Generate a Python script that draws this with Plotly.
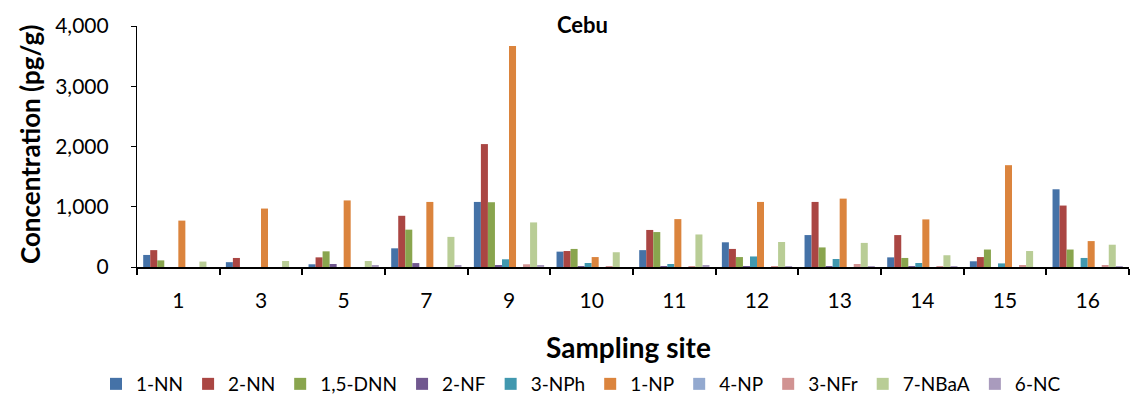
import plotly.graph_objects as go

sites = ["1", "3", "5", "7", "9", "10", "11", "12", "13", "14", "15", "16"]

nn1 = [200, 80, 45, 310, 1080, 255, 280, 410, 530, 160, 95, 1290]
nn2 = [280, 150, 160, 850, 2040, 265, 615, 300, 1080, 530, 165, 1020]
dnn15 = [110, 0, 260, 620, 1075, 300, 580, 165, 325, 150, 290, 290]
nf2 = [0, 0, 50, 65, 33, 10, 15, 15, 10, 15, 0, 0]
nph3 = [0, 0, 0, 0, 128, 66, 50, 175, 133, 66, 60, 150]
np1 = [770, 970, 1105, 1080, 3670, 165, 795, 1080, 1135, 790, 1690, 430]
np4 = [0, 0, 0, 0, 0, 0, 0, 0, 0, 0, 0, 0]
nfr3 = [0, 0, 0, 0, 45, 10, 15, 10, 50, 15, 28, 28]
nbaa7 = [90, 100, 100, 500, 740, 245, 540, 415, 400, 195, 265, 370]
nc6 = [0, 0, 30, 20, 28, 0, 28, 10, 10, 8, 0, 10]

series = [
    ("1-NN", nn1, "#4572A7"),
    ("2-NN", nn2, "#AA4643"),
    ("1,5-DNN", dnn15, "#89A54E"),
    ("2-NF", nf2, "#71588F"),
    ("3-NPh", nph3, "#4198AF"),
    ("1-NP", np1, "#DB843D"),
    ("4-NP", np4, "#93A9CF"),
    ("3-NFr", nfr3, "#D19392"),
    ("7-NBaA", nbaa7, "#B9CD96"),
    ("6-NC", nc6, "#A99BBD"),
]

FONT = "Lato"
W, H = 1131, 401
ML, MR, MT, MB = 137, 2, 26, 134
PW, PH = W - ML - MR, H - MT - MB


def px_to_xpaper(px):
    return (px - ML) / PW


def px_to_ypaper(py):
    return (H - MB - py) / PH


fig = go.Figure()
for name, vals, color in series:
    fig.add_trace(go.Bar(
        name=name, x=sites, y=vals,
        marker=dict(color=color, line=dict(width=0)),
    ))

fig.update_layout(
    width=W, height=H,
    margin=dict(l=ML, r=MR, t=MT, b=MB),
    paper_bgcolor="white", plot_bgcolor="white",
    barmode="group", bargap=0.15, bargroupgap=0,
    font=dict(family=FONT, size=21, color="black"),
    showlegend=True,
    legend=dict(
        orientation="h", xref="container", yref="container",
        x=581 / W, xanchor="center", y=1 - 384 / H, yanchor="middle",
        font=dict(size=19), tracegroupgap=0, itemwidth=30,
    ),
    annotations=[
        dict(text="<b>Cebu</b>", xref="paper", yref="paper",
             x=px_to_xpaper(582), y=px_to_ypaper(24),
             xanchor="center", yanchor="middle",
             showarrow=False, font=dict(size=22)),
        dict(text="<b>Sampling site</b>", xref="paper", yref="paper",
             x=px_to_xpaper(628), y=px_to_ypaper(347),
             xanchor="center", yanchor="middle",
             showarrow=False, font=dict(size=28)),
        dict(text="<b>Concentration (pg/g)</b>", xref="paper", yref="paper",
             x=px_to_xpaper(30), y=px_to_ypaper(145),
             xanchor="center", yanchor="middle",
             textangle=-90, showarrow=False, font=dict(size=26)),
    ],
)

fig.update_xaxes(
    type="category", showline=True, linecolor="black", linewidth=1.5,
    ticks="outside", tickson="boundaries", ticklen=6, tickcolor="black",
    tickwidth=1.5, showgrid=False, tickfont=dict(size=21),
    ticklabelstandoff=14,
)
fig.update_yaxes(
    range=[0, 4000], dtick=1000, tickformat=",",
    showline=True, linecolor="black", linewidth=1.2,
    ticks="outside", ticklen=5, tickcolor="black",
    showgrid=False, zeroline=False, tickfont=dict(size=21),
    ticklabelstandoff=18,
)

fig.write_html("out.html")
